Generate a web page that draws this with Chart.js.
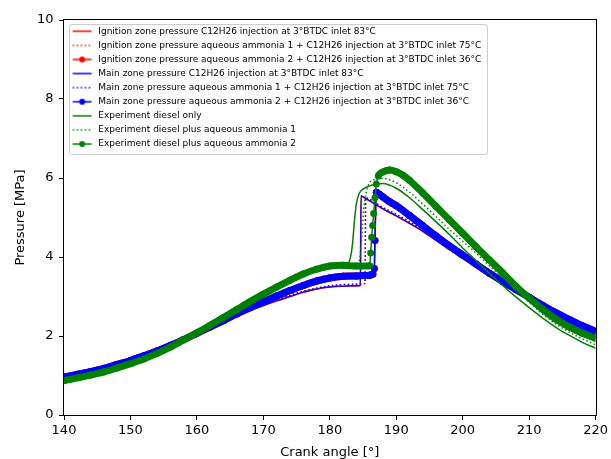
<!DOCTYPE html>
<html><head><meta charset="utf-8">
<script src="https://cdn.jsdelivr.net/npm/chart.js@4.4.1/dist/chart.umd.min.js"></script>
<style>html,body{margin:0;padding:0;background:#fff;}</style>
</head><body>
<canvas id="c" width="611" height="459"></canvas>
<script>
// ---------- data ----------
const seriesLabels = [
  'Ignition zone pressure C12H26 injection at 3°BTDC inlet 83°C',
  'Ignition zone pressure aqueous ammonia 1 + C12H26 injection at 3°BTDC inlet 75°C',
  'Ignition zone pressure aqueous ammonia 2 + C12H26 injection at 3°BTDC inlet 36°C',
  'Main zone pressure C12H26 injection at 3°BTDC inlet 83°C',
  'Main zone pressure aqueous ammonia 1 + C12H26 injection at 3°BTDC inlet 75°C',
  'Main zone pressure aqueous ammonia 2 + C12H26 injection at 3°BTDC inlet 36°C',
  'Experiment diesel only',
  'Experiment diesel plus aqueous ammonia 1',
  'Experiment diesel plus aqueous ammonia 2'
];
const xTicks = [140, 150, 160, 170, 180, 190, 200, 210, 220];
const yTicks = [0, 2, 4, 6, 8, 10];

// simulation, C12H26 injection, inlet 83°C
const angSim83 = [140,142,144,146,148,150,152,154,156,158,160,162,164,166,168,170,172,174,176,178,180,182,184,
  184.6,184.7,185,186,
  188,190,192,194,196,198,200,202,204,206,208,210,212,214,216,218,220];
const pSim83 = [0.96,1.03,1.10,1.18,1.28,1.38,1.50,1.62,1.76,1.90,2.05,2.20,2.35,2.50,2.64,2.77,2.89,3.00,3.11,3.19,3.24,3.26,3.27,
  3.28,5.55,5.52,5.42,
  5.22,5.04,4.85,4.65,4.42,4.19,3.97,3.75,3.54,3.34,3.15,2.95,2.76,2.56,2.40,2.24,2.09];

// simulation, aqueous ammonia 1, inlet 75°C
const angSim75 = [140,142,144,146,148,150,152,154,156,158,160,162,164,166,168,170,172,174,176,178,180,182,184,
  185,185.3,185.4,186,
  188,190,192,194,196,198,200,202,204,206,208,210,212,214,216,218,220];
const pSim75 = [0.96,1.03,1.10,1.18,1.28,1.38,1.50,1.62,1.76,1.90,2.05,2.20,2.36,2.51,2.66,2.79,2.92,3.03,3.13,3.21,3.27,3.30,3.31,
  3.32,3.33,5.50,5.46,
  5.25,5.08,4.89,4.69,4.46,4.23,4.01,3.79,3.58,3.38,3.18,2.98,2.79,2.59,2.42,2.26,2.11];

// simulation, aqueous ammonia 2, inlet 36°C
const angSim36 = [140,142,144,146,148,150,152,154,156,158,160,162,164,166,168,170,172,174,176,178,180,
  182,184,185,186,186.5,186.7,186.8,187,187.5,188,189,190,
  192,194,196,198,200,202,204,206,208,210,212,214,216,218,220];
const pSim36 = [0.96,1.03,1.10,1.18,1.28,1.38,1.50,1.62,1.76,1.91,2.07,2.23,2.39,2.56,2.72,2.87,3.01,3.15,3.28,3.39,3.47,
  3.51,3.52,3.53,3.54,3.57,3.71,4.42,5.64,5.58,5.52,5.40,5.30,
  5.05,4.79,4.53,4.28,4.05,3.82,3.59,3.38,3.18,2.98,2.78,2.59,2.42,2.26,2.12];

// experiment, diesel only
const angExpDiesel = [140,142,144,146,148,150,152,154,156,158,160,162,164,166,168,170,172,174,176,178,180,182,
  182.5,183,183.4,183.7,184,184.4,185,186,187,
  188,190,192,194,196,198,200,202,204,206,208,210,212,214,216,218,220];
const pExpDiesel = [0.87,0.94,1.01,1.09,1.19,1.30,1.42,1.56,1.72,1.90,2.08,2.27,2.47,2.67,2.87,3.06,3.24,3.41,3.57,3.69,3.77,3.78,
  3.80,3.92,4.30,4.90,5.35,5.60,5.72,5.80,5.85,
  5.86,5.74,5.50,5.20,4.89,4.57,4.23,3.91,3.59,3.28,2.99,2.72,2.46,2.22,2.02,1.84,1.69];

// experiment, diesel plus aqueous ammonia 1
const angExpAq1 = [140,142,144,146,148,150,152,154,156,158,160,162,164,166,168,170,172,174,176,178,180,182,184,
  184.5,184.8,185.1,185.5,186,187,
  188,190,192,194,196,198,200,202,204,206,208,210,212,214,216,218,220];
const pExpAq1 = [0.87,0.94,1.01,1.09,1.19,1.30,1.42,1.56,1.72,1.90,2.08,2.27,2.47,2.67,2.87,3.06,3.24,3.41,3.57,3.69,3.77,3.78,3.78,
  3.95,4.50,5.20,5.65,5.88,5.97,
  5.99,5.88,5.64,5.34,5.02,4.70,4.40,4.10,3.78,3.47,3.16,2.86,2.56,2.31,2.10,1.93,1.78];

// experiment, diesel plus aqueous ammonia 2
const angExpAq2 = [140,142,144,146,148,150,152,154,156,158,160,162,164,166,168,170,172,174,176,178,180,182,184,186,
  186.15,186.3,186.45,186.6,186.8,187,187.3,
  188,189,190,191,192,
  194,196,198,200,202,204,206,208,210,212,214,216,218,220];
const pExpAq2 = [0.87,0.94,1.01,1.09,1.19,1.30,1.42,1.56,1.72,1.90,2.08,2.27,2.47,2.67,2.87,3.06,3.24,3.41,3.57,3.69,3.77,3.79,3.77,3.78,
  4.10,4.50,4.80,5.10,5.50,5.85,6.05,
  6.15,6.20,6.16,6.07,5.94,
  5.62,5.28,4.94,4.60,4.26,3.93,3.60,3.26,2.96,2.68,2.43,2.23,2.07,1.94];

// ---------- styling ----------
const FONT = "'DejaVu Sans', sans-serif";
const RED = '#ff0000', BLUE = '#0000ff', GREEN = '#008000';
const BLUE_THIN = 'rgba(0,0,255,0.78)';
const THIN = 1.5, BAND = 7, DOTS = [1.5, 2.5];
const LEG_SIZE = 9, LEG_PAD = 5.09, LEG_SW = 24.7, LEG_TITLE_GAP = 20.7;

const pts = (a, p) => a.map((x, i) => ({x: x, y: p[i]}));

function makeSwatch(color, kind) {
  const c = document.createElement('canvas');
  c.width = 24; c.height = 8;
  const g = c.getContext('2d');
  g.strokeStyle = color; g.lineWidth = THIN;
  if (kind === 'dotted') g.setLineDash(DOTS);
  g.beginPath(); g.moveTo(3.2, 4); g.lineTo(22.2, 4); g.stroke();
  if (kind === 'marker') {
    g.setLineDash([]); g.fillStyle = color;
    g.beginPath(); g.arc(12.7, 4, 3, 0, Math.PI * 2); g.fill();
  }
  return c;
}

function ds(i, ang, p, color, kind, lineColor) {
  const d = {
    label: seriesLabels[i],
    data: pts(ang, p),
    borderColor: lineColor || color,
    backgroundColor: color,
    borderWidth: THIN,
    pointRadius: 0,
    pointHoverRadius: 0,
    fill: false,
    cubicInterpolationMode: 'monotone',
    clip: 0,
    order: 8 - i
  };
  if (kind === 'dotted') d.borderDash = DOTS;
  if (kind === 'marker') {
    d.pointRadius = 3.5;
    d.pointBorderWidth = 0;
    d.pointBackgroundColor = color;
    d.segment = {
      borderWidth: ctx => {
        const dx = Math.abs(ctx.p1.x - ctx.p0.x), dy = Math.abs(ctx.p1.y - ctx.p0.y);
        return (dy > 3 * dx && dy > 4) ? THIN : BAND;
      }
    };
  }
  return d;
}

const kinds = ['solid', 'dotted', 'marker', 'solid', 'dotted', 'marker', 'solid', 'dotted', 'marker'];
const colors = [RED, RED, RED, BLUE, BLUE, BLUE, GREEN, GREEN, GREEN];
const swatches = kinds.map((k, i) => makeSwatch(colors[i], k));

const datasets = [
  ds(0, angSim83, pSim83, RED, 'solid'),
  ds(1, angSim75, pSim75, RED, 'dotted'),
  ds(2, angSim36, pSim36, RED, 'marker'),
  ds(3, angSim83, pSim83, BLUE, 'solid', BLUE_THIN),
  ds(4, angSim75, pSim75, BLUE, 'dotted', BLUE_THIN),
  ds(5, angSim36, pSim36, BLUE, 'marker'),
  ds(6, angExpDiesel, pExpDiesel, GREEN, 'solid'),
  ds(7, angExpAq1, pExpAq1, GREEN, 'dotted'),
  ds(8, angExpAq2, pExpAq2, GREEN, 'marker')
];

const legendFrame = {
  id: 'legendFrame',
  beforeDraw(chart) {
    const lg = chart.legend;
    if (!lg || !lg.legendItems) return;
    const ctx = chart.ctx;
    ctx.save();
    ctx.font = LEG_SIZE + 'px ' + FONT;
    let maxW = 0;
    lg.legendItems.forEach(it => { maxW = Math.max(maxW, ctx.measureText(it.text).width); });
    const x0 = lg.left + LEG_PAD + 0.2;
    const textX = lg.left + LEG_PAD + LEG_SW + LEG_SIZE / 2;
    const x1 = textX + maxW + 6;
    const n = lg.legendItems.length;
    const firstMid = lg.top + 1 + LEG_TITLE_GAP + LEG_PAD + LEG_SIZE / 2;
    const y0 = firstMid - 7.3;
    const y1 = firstMid + (n - 1) * (LEG_SIZE + LEG_PAD) + 10;
    ctx.beginPath();
    ctx.roundRect(Math.round(x0) + 0.5, Math.round(y0) + 0.5, Math.round(x1 - x0), Math.round(y1 - y0), 2);
    ctx.fillStyle = 'rgba(255,255,255,0.8)';
    ctx.fill();
    ctx.strokeStyle = '#cccccc';
    ctx.lineWidth = 1;
    ctx.stroke();
    ctx.restore();
  },
  afterDraw(chart) {
    const ctx = chart.ctx, ca = chart.chartArea;
    ctx.save();
    ctx.strokeStyle = '#000';
    ctx.lineWidth = 1;
    ctx.strokeRect(Math.round(ca.left) - 0.5, Math.round(ca.top) - 0.5, Math.round(ca.right - ca.left) + 1, Math.round(ca.bottom - ca.top) + 1);
    ctx.restore();
  }
};

new Chart(document.getElementById('c'), {
  type: 'line',
  data: {datasets: datasets},
  options: {
    responsive: false,
    animation: false,
    events: [],
    layout: {padding: {top: 20, right: 14, left: 0, bottom: 0}},
    scales: {
      x: {
        type: 'linear', min: xTicks[0], max: xTicks[xTicks.length - 1],
        afterBuildTicks: s => { s.ticks = xTicks.map(v => ({value: v})); },
        ticks: {color: '#000', font: {family: FONT, size: 13}, padding: 3, maxRotation: 0, autoSkip: false},
        grid: {drawOnChartArea: false, drawTicks: true, tickLength: 5, tickColor: '#000', tickWidth: 1},
        border: {display: false},
        title: {display: true, text: 'Crank angle [°]', color: '#000', font: {family: FONT, size: 13, lineHeight: 1}, padding: {top: 0, bottom: 0}},
        afterFit: s => { s.height = 44; }
      },
      y: {
        type: 'linear', min: yTicks[0], max: yTicks[yTicks.length - 1],
        afterBuildTicks: s => { s.ticks = yTicks.map(v => ({value: v})); },
        ticks: {color: '#000', font: {family: FONT, size: 13}, padding: 5.5},
        grid: {drawOnChartArea: false, drawTicks: true, tickLength: 5, tickColor: '#000', tickWidth: 1},
        border: {display: false},
        title: {display: true, text: 'Pressure [MPa]', color: '#000', font: {family: FONT, size: 13, lineHeight: 1}, padding: {top: 14.5, bottom: 0}},
        afterFit: s => { s.width = 64; }
      }
    },
    plugins: {
      tooltip: {enabled: false},
      legend: {
        position: 'chartArea',
        align: 'start',
        title: {display: true, text: '', font: {size: 1, lineHeight: 1}, padding: {top: 0, bottom: LEG_TITLE_GAP}},
        labels: {
          font: {family: FONT, size: LEG_SIZE},
          color: '#000',
          padding: LEG_PAD,
          usePointStyle: true,
          pointStyleWidth: LEG_SW,
          boxHeight: LEG_SIZE,
          sort: (a, b) => a.datasetIndex - b.datasetIndex,
          generateLabels: chart => Chart.defaults.plugins.legend.labels.generateLabels(chart)
            .map(it => Object.assign({}, it, {pointStyle: swatches[it.datasetIndex], fontColor: '#000'}))
        }
      }
    }
  },
  plugins: [legendFrame]
});
</script>
</body></html>
